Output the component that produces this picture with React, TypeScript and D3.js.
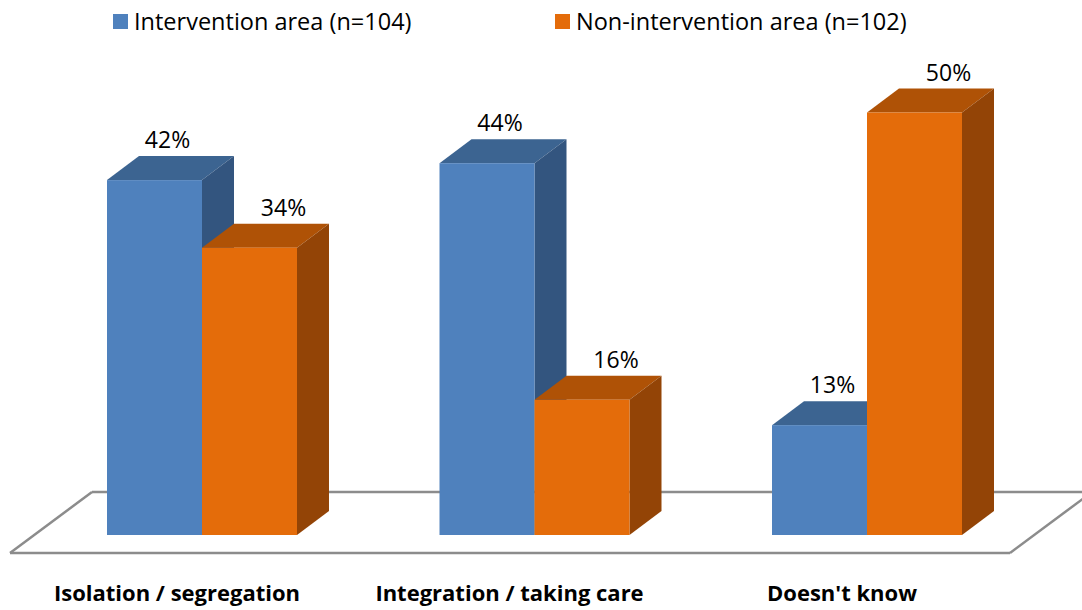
import * as d3 from 'd3';

const categories = ['Isolation / segregation', 'Integration / taking care', "Doesn't know"];
const seriesNames = ['Intervention area (n=104)', 'Non-intervention area (n=102)'];
const intervention = [42, 44, 13];
const nonIntervention = [34, 16, 50];

const W = 1082;
const H = 610;
const FONT = '"Open Sans", "Liberation Sans", sans-serif';

// depth offset of the 3d boxes
const DX = 32;
const DY = -24;

const palette = [
  { front: '#4f81bd', top: '#3c6491', side: '#33557f', label: 13 },
  { front: '#e46c0a', top: '#af5206', side: '#934406', label: 34 },
];

const App = () => {
  const x = d3.scaleBand<string>()
    .domain(categories)
    .range([107, 962])
    .paddingInner(0.4286)
    .paddingOuter(0);

  const xs = d3.scaleBand<string>()
    .domain(seriesNames)
    .range([0, x.bandwidth()])
    .padding(0);

  const y = d3.scaleLinear().domain([0, 50]).range([535, 112.5]);

  const data = categories.flatMap((c, i) => [
    { cat: c, s: 0, v: intervention[i] },
    { cat: c, s: 1, v: nonIntervention[i] },
  ]);

  // floor parallelogram
  const fl = 10, fr = 1010, fy = 553, fdx = 82, fdy = -61;

  return (
    <div style={{ position: 'absolute', left: 0, top: 0 }}>
      <svg width={W} height={H} style={{ display: 'block', background: '#fff' }}>
        {/* floor */}
        <g fill="none" stroke="#8c8c8c" strokeWidth={2.5}>
          <line x1={fl + fdx} y1={fy + fdy} x2={fr + fdx} y2={fy + fdy} />
          <line x1={fl} y1={fy} x2={fl + fdx} y2={fy + fdy} />
          <line x1={fr} y1={fy} x2={fr + fdx} y2={fy + fdy} />
          <line x1={fl} y1={fy} x2={fr} y2={fy} />
        </g>

        {/* bars */}
        {data.map((d) => {
          const x0 = (x(d.cat) ?? 0) + (xs(seriesNames[d.s]) ?? 0);
          const x1 = x0 + xs.bandwidth();
          const yt = y(d.v);
          const yb = y(0);
          const c = palette[d.s];
          return (
            <g key={`${d.cat}-${d.s}`}>
              <polygon
                points={`${x0},${yt} ${x0 + DX},${yt + DY} ${x1 + DX},${yt + DY} ${x1},${yt}`}
                fill={c.top}
              />
              <polygon
                points={`${x1},${yt} ${x1 + DX},${yt + DY} ${x1 + DX},${yb + DY} ${x1},${yb}`}
                fill={c.side}
              />
              <rect x={x0} y={yt} width={x1 - x0} height={yb - yt} fill={c.front} />
              <text
                x={(x0 + x1) / 2 + c.label}
                y={yt + DY - 8}
                textAnchor="middle"
                fontFamily={FONT}
                fontSize={23}
                fill="#000"
              >
                {d.v}%
              </text>
            </g>
          );
        })}

        {/* category labels */}
        {categories.map((c) => (
          <text
            key={c}
            x={(x(c) ?? 0) + x.bandwidth() / 2 - 25}
            y={601}
            textAnchor="middle"
            fontFamily={FONT}
            fontWeight="bold"
            fontSize={22}
            fill="#000"
          >
            {c}
          </text>
        ))}

        {/* legend */}
        {seriesNames.map((s, i) => {
          const lx = i === 0 ? 113 : 555;
          return (
            <g key={s} transform={`translate(${lx},14)`}>
              <rect width={15} height={15} fill={palette[i].front} />
              <text x={21} y={15.5} fontFamily={FONT} fontSize={23.5} fill="#000">
                {s}
              </text>
            </g>
          );
        })}
      </svg>
    </div>
  );
};

export default App;
